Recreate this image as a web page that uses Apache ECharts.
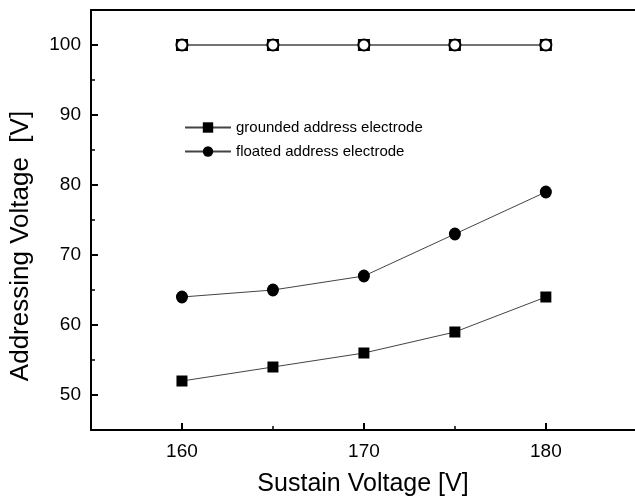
<!DOCTYPE html>
<html>
<head>
<meta charset="utf-8">
<script src="https://cdn.jsdelivr.net/npm/echarts@6/dist/echarts.min.js"></script>
<style>
html,body{margin:0;padding:0;background:#fff;overflow:hidden;}
#chart{width:635px;height:502px;}
</style>
</head>
<body>
<div id="chart"></div>
<script>
// Sustain voltage (x) values
const sustainVoltage = [160, 165, 170, 175, 180];
// Addressing voltage series
const groundedAddress = [52, 54, 56, 59, 64];
const floatedAddress = [64, 65, 67, 73, 79];
// upper reference rows (open markers, overlapping)
const upperSquareOpen = [100, 100, 100, 100, 100];
const upperCircleOpen = [100, 100, 100, 100, 100];
// tick labels
const xTickLabels = [160, 170, 180];
const xMinorTicks = [165, 175];
const yTickLabels = [50, 60, 70, 80, 90, 100];
const yMinorTicks = [55, 65, 75, 85, 95];

const pairs = (xs, ys) => xs.map((x, i) => [x, ys[i]]);
const FONT = '"Liberation Sans", Arial, sans-serif';

const chart = echarts.init(document.getElementById('chart'), null, {renderer: 'canvas'});
const lineStyle = {color: '#444', width: 1};

chart.setOption({
  animation: false,
  backgroundColor: '#fff',
  grid: {left: 89, right: 0, top: 10, bottom: 72, show: false},
  legend: {
    orient: 'vertical', left: 184, top: 120, padding: 0,
    itemWidth: 46, itemHeight: 13, itemGap: 9,
    data: ['grounded address electrode', 'floated address electrode'],
    textStyle: {fontFamily: FONT, fontSize: 15, color: '#000'}
  },
  xAxis: [{
    type: 'value', min: 155, max: 184.9, interval: 5,
    name: 'Sustain Voltage [V]', nameLocation: 'middle', nameGap: 42,
    nameTextStyle: {fontFamily: FONT, fontSize: 25, color: '#000'},
    axisLine: {show: true, lineStyle: {color: '#000', width: 2}},
    axisTick: {show: true, inside: true, length: 7, customValues: xTickLabels, lineStyle: {color: '#000', width: 2}},
    axisLabel: {customValues: xTickLabels, fontFamily: FONT, fontSize: 19, color: '#000', margin: 12},
    splitLine: {show: false}
  }, {
    type: 'value', min: 155, max: 184.9, interval: 5, position: 'bottom',
    axisLine: {show: false},
    axisTick: {show: true, inside: true, length: 4, customValues: xMinorTicks, lineStyle: {color: '#000', width: 1.5}},
    axisLabel: {show: false}, splitLine: {show: false}
  }, {
    type: 'value', min: 155, max: 184.9, interval: 5, position: 'top',
    axisLine: {show: true, onZero: false, lineStyle: {color: '#000', width: 2}},
    axisTick: {show: false}, axisLabel: {show: false}, splitLine: {show: false}
  }],
  yAxis: [{
    type: 'value', min: 45, max: 105, interval: 5,
    name: 'Addressing Voltage  [V]', nameLocation: 'middle', nameGap: 57,
    nameTextStyle: {fontFamily: FONT, fontSize: 26, color: '#000', padding: [0, 52, 0, 0]},
    axisLine: {show: true, lineStyle: {color: '#000', width: 2}},
    axisTick: {show: true, inside: true, length: 7, customValues: yTickLabels, lineStyle: {color: '#000', width: 2}},
    axisLabel: {customValues: yTickLabels, fontFamily: FONT, fontSize: 19, color: '#000', margin: 10},
    splitLine: {show: false}
  }, {
    type: 'value', min: 45, max: 105, interval: 5, position: 'left',
    axisLine: {show: false},
    axisTick: {show: true, inside: true, length: 4, customValues: yMinorTicks, lineStyle: {color: '#000', width: 1.5}},
    axisLabel: {show: false}, splitLine: {show: false}
  }],
  series: [
    {
      name: 'upper open square', type: 'line', data: pairs(sustainVoltage, upperSquareOpen),
      symbol: 'emptyRect', symbolSize: 10, lineStyle,
      itemStyle: {color: '#000', borderColor: '#000', borderWidth: 1.5}, z: 3
    },
    {
      name: 'upper open circle', type: 'line', data: pairs(sustainVoltage, upperCircleOpen),
      symbol: 'emptyCircle', symbolSize: 11, lineStyle,
      itemStyle: {color: '#000', borderColor: '#000', borderWidth: 1.2}, z: 4
    },
    {
      name: 'grounded address electrode', type: 'line', data: pairs(sustainVoltage, groundedAddress),
      symbol: 'rect', symbolSize: 11, lineStyle,
      itemStyle: {color: '#000'}
    },
    {
      name: 'floated address electrode', type: 'line', data: pairs(sustainVoltage, floatedAddress),
      symbol: 'circle', symbolSize: [12, 13], lineStyle,
      itemStyle: {color: '#000'}
    }
  ]
});
</script>
</body>
</html>
